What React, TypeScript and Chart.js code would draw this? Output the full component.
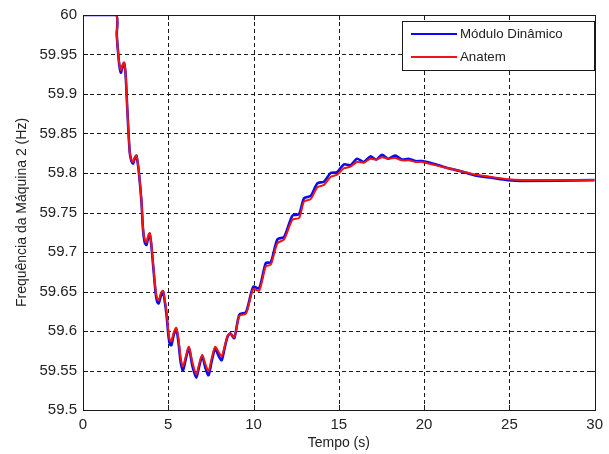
import React, { useEffect, useRef } from "react";
import { Chart, registerables } from "chart.js";

Chart.register(...registerables);

const times = [0, 1.93, 1.98, 2.05, 2.12, 2.22, 2.32, 2.41, 2.5, 2.6, 2.74, 2.84, 2.94, 3.04, 3.13, 3.22, 3.29, 3.43, 3.52, 3.62, 3.72, 3.82, 3.91, 4.0, 4.1, 4.26, 4.35, 4.44, 4.57, 4.69, 4.79, 4.89, 5.02, 5.1, 5.18, 5.32, 5.47, 5.6, 5.73, 5.86, 6.03, 6.21, 6.42, 6.64, 6.81, 6.99, 7.18, 7.36, 7.55, 7.75, 7.94, 8.13, 8.3, 8.48, 8.64, 8.87, 9.17, 9.56, 9.98, 10.33, 10.72, 11.01, 11.4, 11.79, 12.28, 12.67, 12.96, 13.35, 13.74, 14.13, 14.52, 14.9, 15.3, 15.68, 16.07, 16.46, 16.85, 17.2, 17.53, 17.9, 18.3, 18.7, 19.1, 19.5, 19.87, 20.65, 21.42, 22.2, 22.98, 23.95, 24.93, 25.7, 30];

const anatem = [60, 60, 59.975, 59.955, 59.94, 59.93, 59.937, 59.94, 59.925, 59.88, 59.827, 59.817, 59.814, 59.82, 59.822, 59.812, 59.799, 59.764, 59.73, 59.716, 59.712, 59.72, 59.724, 59.712, 59.688, 59.651, 59.641, 59.639, 59.648, 59.651, 59.64, 59.626, 59.597, 59.588, 59.587, 59.598, 59.604, 59.59, 59.566, 59.555, 59.568, 59.58, 59.56, 59.545, 59.558, 59.57, 59.558, 59.549, 59.566, 59.58, 59.574, 59.568, 59.58, 59.594, 59.597, 59.592, 59.619, 59.622, 59.653, 59.651, 59.682, 59.684, 59.711, 59.716, 59.741, 59.743, 59.764, 59.767, 59.782, 59.785, 59.795, 59.798, 59.806, 59.808, 59.814, 59.813, 59.818, 59.817, 59.82, 59.818, 59.819, 59.816, 59.816, 59.814, 59.814, 59.81, 59.806, 59.802, 59.798, 59.795, 59.792, 59.791, 59.791];

const moduloDinamico = [60, 60, 59.975, 59.955, 59.938, 59.927, 59.935, 59.939, 59.924, 59.88, 59.826, 59.815, 59.812, 59.819, 59.822, 59.811, 59.798, 59.763, 59.728, 59.712, 59.709, 59.718, 59.723, 59.71, 59.686, 59.648, 59.637, 59.635, 59.645, 59.65, 59.638, 59.622, 59.592, 59.583, 59.582, 59.595, 59.602, 59.585, 59.56, 59.55, 59.565, 59.578, 59.555, 59.541, 59.555, 59.568, 59.553, 59.544, 59.562, 59.578, 59.569, 59.563, 59.578, 59.593, 59.597, 59.591, 59.621, 59.624, 59.656, 59.654, 59.686, 59.687, 59.716, 59.719, 59.746, 59.748, 59.768, 59.771, 59.787, 59.789, 59.8, 59.801, 59.811, 59.81, 59.818, 59.814, 59.821, 59.817, 59.823, 59.818, 59.822, 59.817, 59.818, 59.815, 59.815, 59.811, 59.806, 59.802, 59.797, 59.794, 59.791, 59.79, 59.791];

const seriesLabels = ["Módulo Dinâmico", "Anatem"];
const xTicks = [0, 5, 10, 15, 20, 25, 30];
const yTicks = [59.5, 59.55, 59.6, 59.65, 59.7, 59.75, 59.8, 59.85, 59.9, 59.95, 60];

const FONT = "'Liberation Sans', Arial, sans-serif";

const gridPlugin = {
  id: "gridPlugin",
  beforeDatasetsDraw(chart: any) {
    const { ctx, chartArea } = chart;
    const { left, right, top, bottom } = chartArea;
    const xs = chart.scales.x;
    const ys = chart.scales.y;
    ctx.save();
    ctx.strokeStyle = "#1a1a1a";
    ctx.lineWidth = 1;
    ctx.setLineDash([4, 3]);
    ctx.beginPath();
    xTicks.slice(1, -1).forEach((v) => {
      const px = Math.round(xs.getPixelForValue(v)) + 0.5;
      ctx.moveTo(px, top);
      ctx.lineTo(px, bottom);
    });
    yTicks.slice(1, -1).forEach((v) => {
      const py = Math.round(ys.getPixelForValue(v)) + 0.5;
      ctx.moveTo(left, py);
      ctx.lineTo(right, py);
    });
    ctx.stroke();
    ctx.restore();
  },
};

const boxPlugin = {
  id: "boxPlugin",
  afterDatasetsDraw(chart: any) {
    const { ctx, chartArea } = chart;
    const { left, right, top, bottom } = chartArea;
    ctx.save();
    ctx.strokeStyle = "#1a1a1a";
    ctx.lineWidth = 1;
    ctx.setLineDash([]);
    ctx.strokeRect(Math.round(left) + 0.5, Math.round(top) + 0.5, Math.round(right - left), Math.round(bottom - top));
    const xs = chart.scales.x;
    const ys = chart.scales.y;
    ctx.beginPath();
    xTicks.forEach((v) => {
      const px = Math.round(xs.getPixelForValue(v)) + 0.5;
      ctx.moveTo(px, bottom); ctx.lineTo(px, bottom - 5);
      ctx.moveTo(px, top); ctx.lineTo(px, top + 5);
    });
    yTicks.forEach((v) => {
      const py = Math.round(ys.getPixelForValue(v)) + 0.5;
      ctx.moveTo(left, py); ctx.lineTo(left + 5, py);
      ctx.moveTo(right, py); ctx.lineTo(right - 5, py);
    });
    ctx.stroke();

    // legend box
    const bx = 402, by = 21, bw = 192, bh = 49;
    ctx.fillStyle = "#fff";
    ctx.fillRect(bx, by, bw, bh);
    ctx.strokeRect(bx + 0.5, by + 0.5, bw, bh);
    const datasets = chart.data.datasets;
    const rows = [34, 57];
    datasets.forEach((ds: any, i: number) => {
      ctx.strokeStyle = ds.borderColor;
      ctx.lineWidth = 2;
      ctx.beginPath();
      ctx.moveTo(411, rows[i]);
      ctx.lineTo(457, rows[i]);
      ctx.stroke();
      ctx.fillStyle = "#222";
      ctx.font = `13.3px ${FONT}`;
      ctx.textBaseline = "middle";
      ctx.textAlign = "left";
      ctx.fillText(ds.label, 460, rows[i]);
    });
    ctx.restore();
  },
};

export default function App() {
  const ref = useRef<HTMLCanvasElement>(null);
  useEffect(() => {
    document.body.style.margin = "0";
    const canvas = ref.current!;
    const chart = new Chart(canvas, {
      type: "line",
      data: {
        datasets: [
          {
            label: seriesLabels[0],
            data: times.map((t, i) => ({ x: t, y: moduloDinamico[i] })),
            borderColor: "rgb(10,10,240)",
            borderWidth: 2.6,
            pointRadius: 0,
            tension: 0.25,
            order: 1,
          },
          {
            label: seriesLabels[1],
            data: times.map((t, i) => ({ x: t, y: anatem[i] })),
            borderColor: "rgb(240,20,20)",
            borderWidth: 2,
            pointRadius: 0,
            tension: 0.25,
            order: 0,
          },
        ],
      },
      options: {
        responsive: false,
        animation: false,
        layout: { padding: { top: 12, right: 12, left: 0, bottom: 0 } },
        plugins: { legend: { display: false }, tooltip: { enabled: false } },
        scales: {
          x: {
            type: "linear",
            min: 0,
            max: 30,
            afterBuildTicks: (axis: any) => {
              axis.ticks = xTicks.map((v) => ({ value: v }));
            },
            afterFit: (axis: any) => {
              axis.height = 44;
            },
            grid: { display: false, drawTicks: false, tickLength: 0 },
            border: { display: false },
            ticks: {
              color: "#222",
              font: { family: FONT, size: 15 },
              padding: 6,
              maxRotation: 0,
              autoSkip: false,
            },
            title: {
              display: true,
              text: "Tempo (s)",
              color: "#222",
              font: { family: FONT, size: 14 },
              padding: { top: 0, bottom: 2 },
            },
          },
          y: {
            type: "linear",
            min: 59.5,
            max: 60,
            afterBuildTicks: (axis: any) => {
              axis.ticks = yTicks.map((v) => ({ value: v }));
            },
            afterFit: (axis: any) => {
              axis.width = 83;
            },
            grid: { display: false, drawTicks: false, tickLength: 0 },
            border: { display: false },
            ticks: {
              color: "#222",
              font: { family: FONT, size: 15 },
              padding: 6,
              autoSkip: false,
              callback: (v: any) => String(Math.round(Number(v) * 100) / 100),
            },
            title: {
              display: true,
              text: "Frequência da Máquina 2 (Hz)",
              color: "#222",
              font: { family: FONT, size: 14 },
              padding: { top: 14, bottom: 0 },
            },
          },
        },
      },
      plugins: [gridPlugin, boxPlugin],
    });
    return () => chart.destroy();
  }, []);
  return <canvas ref={ref} width={609} height={454} style={{ display: "block" }} />;
}
